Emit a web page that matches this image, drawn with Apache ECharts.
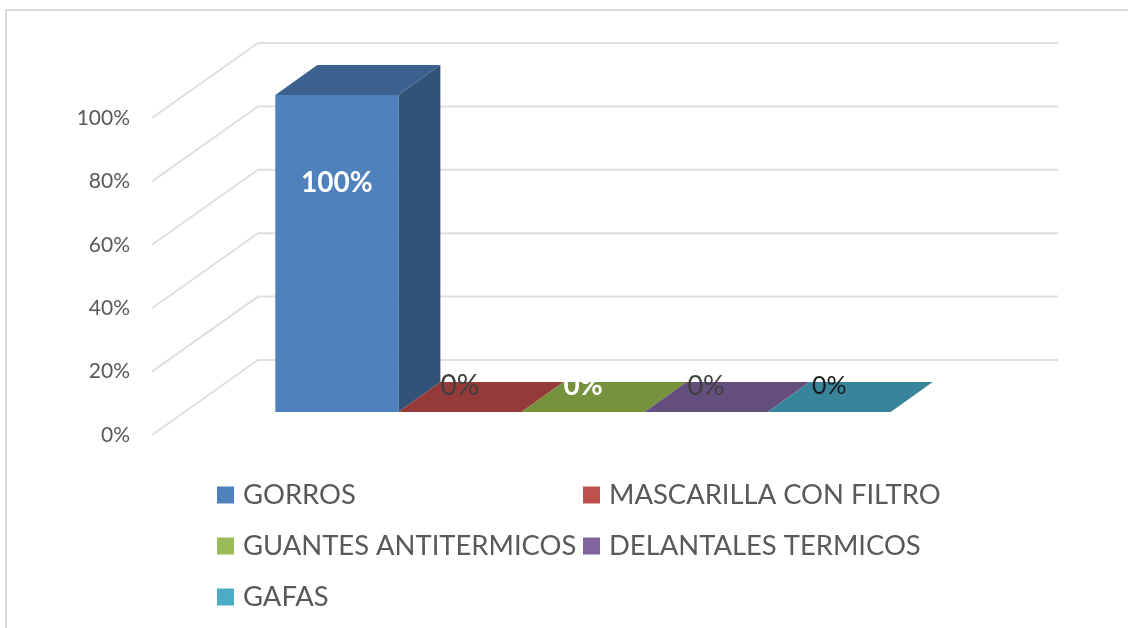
<!DOCTYPE html>
<html>
<head>
<meta charset="utf-8">
<title>EPP</title>
<script src="https://cdn.jsdelivr.net/npm/echarts@6/dist/echarts.min.js"></script>
<style>
  html, body { margin: 0; padding: 0; background: #fff; }
  #chart { width: 1128px; height: 628px; }
</style>
</head>
<body>
<div id="chart"></div>
<script>
const categories = ['Total'];
const seriesNames = ['GORROS', 'MASCARILLA CON FILTRO', 'GUANTES ANTITERMICOS', 'DELANTALES TERMICOS', 'GAFAS'];
const seriesValues = [100, 0, 0, 0, 0];
const yTicks = [0, 20, 40, 60, 80, 100];

const frontColors = ['#4f81bd', '#c0504d', '#9bbb59', '#8064a2', '#4bacc6'];
const topColors = ['#3c618f', '#943a38', '#76923c', '#644e7e', '#38859b'];
const sideColors = ['#325277', '#7a2f2d', '#617a32', '#523f68', '#2e6f81'];
const labelColors = ['#ffffff', '#404040', '#ffffff', '#404040', '#1a1a1a'];
const labelFonts = ['bold 28px Lato', '28px Lato', 'bold 28px Lato', '27px Lato', '25px Lato'];

// fake 3D: the grid is the front plane, everything else is shifted along the depth
const wallDepth = [106, -75];
const barInset = [31, -23];
const barDepth = [42, -30];
const gapWidth = 1.5; // excel gap, in bar widths

function renderWall(params, api) {
  const p = api.coord([0, api.value(1)]);
  const halfBand = api.size([1, 0])[0] / 2;
  const x0 = p[0] - halfBand;
  const x1 = p[0] + halfBand;
  return {
    type: 'polyline',
    silent: true,
    shape: {
      points: [
        [x0, p[1]],
        [x0 + wallDepth[0], p[1] + wallDepth[1]],
        [x1 + wallDepth[0], p[1] + wallDepth[1]]
      ]
    },
    style: { stroke: '#dfdfdf', lineWidth: 2, fill: null }
  };
}

function renderBar(index) {
  return function (params, api) {
    const base = api.coord([0, 0]);
    const top = api.coord([0, api.value(1)]);
    const band = api.size([1, 0])[0];
    const w = band / (seriesValues.length + gapWidth);
    const x0 = base[0] - w * seriesValues.length / 2 + w * index + barInset[0];
    const x1 = x0 + w;
    const yb = base[1] + barInset[1];
    const yt = top[1] + barInset[1];
    const h = yb - yt;
    const dx = barDepth[0];
    const dy = barDepth[1];
    return {
      type: 'group',
      silent: true,
      children: [
        { type: 'polygon', shape: { points: [[x1, yb], [x1 + dx, yb + dy], [x1 + dx, yt + dy], [x1, yt]] }, style: { fill: sideColors[index] } },
        { type: 'polygon', shape: { points: [[x0, yt], [x1, yt], [x1 + dx, yt + dy], [x0 + dx, yt + dy]] }, style: { fill: topColors[index] } },
        { type: 'rect', shape: { x: x0, y: yt, width: w, height: h }, style: { fill: frontColors[index] } },
        {
          type: 'text',
          z2: 10,
          style: {
            text: api.value(1) + '%',
            x: (x0 + x1) / 2,
            y: yb - 26 - h * 0.64,
            font: labelFonts[index],
            fill: labelColors[index],
            align: 'center',
            verticalAlign: 'middle'
          }
        }
      ]
    };
  };
}

const barSeries = seriesNames.map(function (name, i) {
  return {
    name: name,
    type: 'custom',
    z: 3 + i,
    renderItem: renderBar(i),
    itemStyle: { color: frontColors[i] },
    data: [[0, seriesValues[i]]]
  };
});

const legendBase = {
  orient: 'vertical',
  icon: 'rect',
  itemWidth: 17,
  itemHeight: 17,
  itemGap: 21,
  selectedMode: false,
  textStyle: { fontFamily: 'Lato', fontSize: 27.4, color: '#595959', lineHeight: 30, padding: [0, 0, 0, 4] }
};

const chart = echarts.init(document.getElementById('chart'));
chart.setOption({
  animation: false,
  backgroundColor: '#ffffff',
  grid: { left: 152, top: 118, width: 800, height: 317 },
  xAxis: {
    type: 'category',
    data: categories,
    axisLine: { show: false },
    axisTick: { show: false },
    axisLabel: { show: false }
  },
  yAxis: {
    type: 'value',
    min: 0,
    max: 100,
    interval: 20,
    axisLine: { show: false },
    axisTick: { show: false },
    splitLine: { show: false },
    axisLabel: {
      margin: 22,
      padding: [4, 0, 0, 0],
      formatter: '{value}%',
      fontFamily: 'Lato',
      fontSize: 21,
      color: '#595959'
    }
  },
  legend: [
    Object.assign({}, legendBase, { left: 212, top: 475, data: [seriesNames[0], seriesNames[2], seriesNames[4]] }),
    Object.assign({}, legendBase, { left: 578, top: 475, data: [seriesNames[1], seriesNames[3]] })
  ],
  graphic: [{
    type: 'polyline',
    silent: true,
    shape: { points: [[1128, 10], [6, 10], [6, 628]] },
    style: { stroke: '#d9d9d9', lineWidth: 2, fill: null }
  }],
  series: [{
    type: 'custom',
    z: 1,
    renderItem: renderWall,
    data: yTicks.map(function (t) { return [0, t]; })
  }].concat(barSeries)
});
</script>
</body>
</html>
